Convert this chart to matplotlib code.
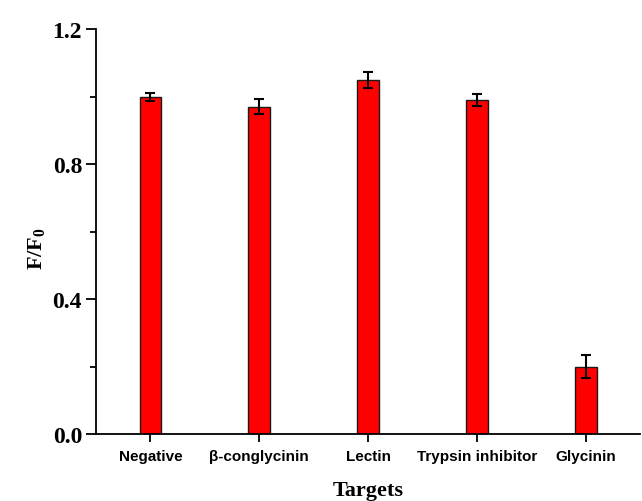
import matplotlib.pyplot as plt
import numpy as np

categories = ['Negative', 'β-conglycinin', 'Lectin', 'Trypsin inhibitor', 'Glycinin']
values = [1.00, 0.97, 1.05, 0.99, 0.20]
errors = [0.012, 0.023, 0.024, 0.018, 0.033]

plt.rcParams['mathtext.fontset'] = 'custom'
plt.rcParams['mathtext.bf'] = 'Liberation Serif:bold'
plt.rcParams['mathtext.rm'] = 'Liberation Serif'

fig = plt.figure(figsize=(6.42, 5.02), dpi=100)
ax = fig.add_axes([0.1495, 0.1335, 0.8475, 0.8065])

x = np.arange(len(categories))
ax.bar(x, values, width=0.2, color='#ff0000', edgecolor='#1a1a1a', linewidth=1.0,
       yerr=errors, error_kw=dict(ecolor='black', elinewidth=1.5, capsize=3.5, capthick=1.5))

ax.set_xlim(-0.5, 4.5)
ax.set_ylim(0, 1.2)
ax.set_yticks([0.0, 0.4, 0.8, 1.2])
ax.set_yticks([0.2, 0.6, 1.0], minor=True)
ax.set_xticks(x)
ax.set_xticklabels(categories, fontfamily='Liberation Sans', fontweight='bold', fontsize=11)
for lab in ax.get_yticklabels():
    lab.set_fontfamily('Liberation Serif')
    lab.set_fontweight('bold')
    lab.set_fontsize(17)

ax.spines['top'].set_visible(False)
ax.spines['right'].set_visible(False)
ax.spines['left'].set_linewidth(1.3)
ax.spines['bottom'].set_linewidth(1.3)
ax.tick_params(axis='y', which='major', direction='out', length=7, width=1.3, pad=3)
ax.tick_params(axis='y', which='minor', direction='out', length=4, width=1.3)
ax.tick_params(axis='x', which='major', direction='out', length=6, width=1.3, pad=5)

ax.set_xlabel('Targets', fontfamily='Liberation Serif', fontweight='bold', fontsize=16, labelpad=12)
ax.set_ylabel(r'$\mathbf{F/F_0}$', fontsize=16)
ax.yaxis.set_label_coords(-0.09, 0.46)

fig.savefig('out.png', dpi=100, facecolor='white')
